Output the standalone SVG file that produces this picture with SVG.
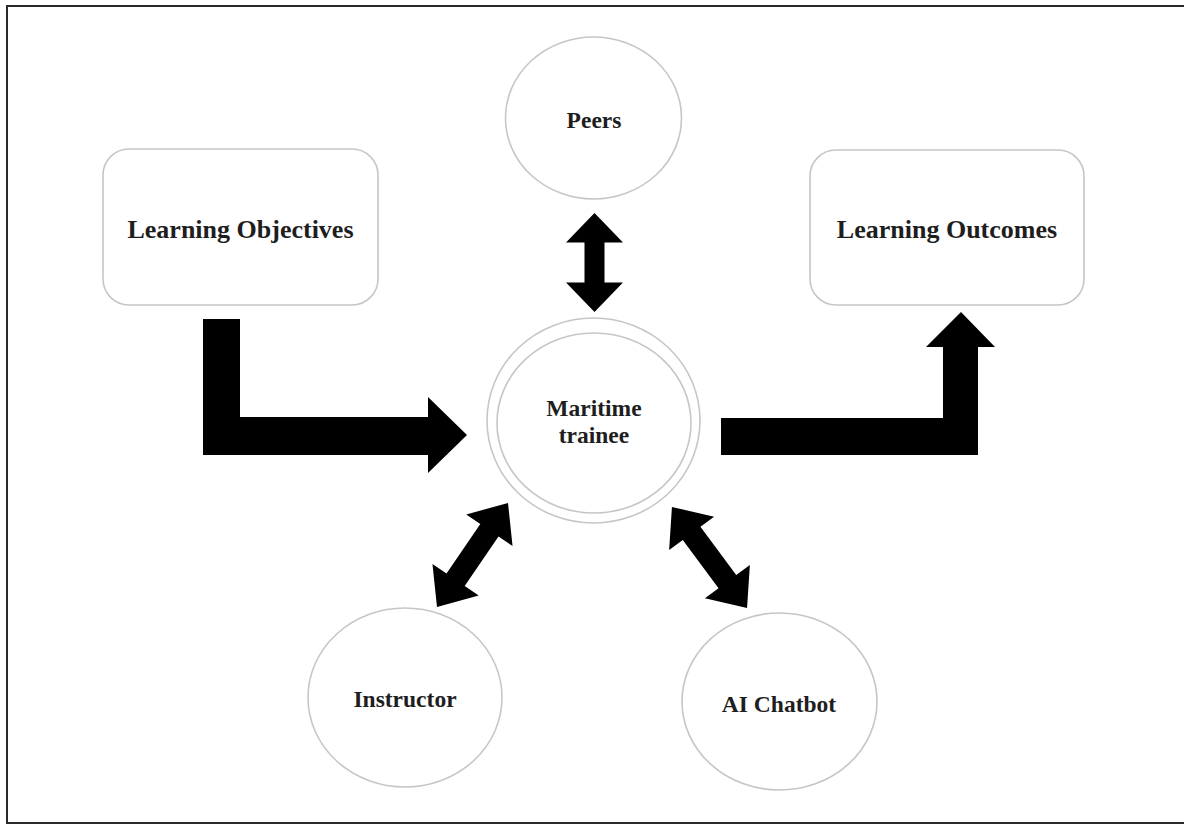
<svg xmlns="http://www.w3.org/2000/svg" width="1184" height="825" viewBox="0 0 1184 825">
  <style>
    .frame { fill: #ffffff; stroke: #2a2a2a; stroke-width: 2; }
    .node { fill: #ffffff; stroke: #c6c6c6; stroke-width: 1.6; }
    .label { font-family: "Liberation Serif", "Times New Roman", serif; font-weight: bold; fill: #1e1e1e; text-anchor: middle; }
    .big { font-size: 26px; }
    .small { font-size: 23.5px; }
    .arrow { fill: #000000; }
  </style>
  <defs>
    <!-- vertical double-headed arrow, centred on the origin -->
    <path id="dbl-short" d="M0,-49.5 L28.5,-20 L10,-20 L10,20 L28.5,20 L0,49.5 L-28.5,20 L-10,20 L-10,-20 L-28.5,-20 Z"/>
    <path id="dbl-long" d="M0,-63 L28,-30 L11,-30 L11,30 L28,30 L0,63 L-28,30 L-11,30 L-11,-30 L-28,-30 Z"/>
  </defs>

  <rect class="frame" x="7" y="6" width="1182" height="817"/>

  <g id="connectors" class="arrow">
    <!-- Learning Objectives -> Maritime trainee -->
    <path id="arrow-objectives" d="M203,319 L240,319 L240,417 L428,417 L428,397 L467,435 L428,473 L428,455 L203,455 Z"/>
    <!-- Maritime trainee -> Learning Outcomes -->
    <path id="arrow-outcomes" d="M721,418 L943,418 L943,347 L926,347 L961,312 L995,347 L978,347 L978,455 L721,455 Z"/>
    <!-- Peers <-> Maritime trainee -->
    <use id="arrow-peers" href="#dbl-short" transform="translate(594.5,262.5)"/>
    <!-- Instructor <-> Maritime trainee -->
    <use id="arrow-instructor" href="#dbl-long" transform="translate(472.5,555) rotate(34.3)"/>
    <!-- AI Chatbot <-> Maritime trainee -->
    <use id="arrow-chatbot" href="#dbl-long" transform="translate(709.5,557.5) rotate(-36.6)"/>
  </g>

  <g id="learning-objectives">
    <rect class="node" x="103" y="149" width="275" height="156" rx="26"/>
    <text class="label big" x="240.5" y="238">Learning Objectives</text>
  </g>

  <g id="learning-outcomes">
    <rect class="node" x="810" y="150" width="274" height="155" rx="26"/>
    <text class="label big" x="947" y="238">Learning Outcomes</text>
  </g>

  <g id="peers">
    <ellipse class="node" cx="593.5" cy="118" rx="88" ry="81"/>
    <text class="label small" x="594" y="128">Peers</text>
  </g>

  <g id="maritime-trainee">
    <ellipse class="node" cx="593.5" cy="420.5" rx="106.5" ry="102.5"/>
    <ellipse class="node" cx="594" cy="423" rx="97" ry="90"/>
    <text class="label small" x="594" y="416">Maritime</text>
    <text class="label small" x="594" y="443">trainee</text>
  </g>

  <g id="instructor">
    <ellipse class="node" cx="405" cy="697.5" rx="97" ry="89.5"/>
    <text class="label small" x="405" y="707">Instructor</text>
  </g>

  <g id="ai-chatbot">
    <ellipse class="node" cx="779.5" cy="701.5" rx="97.5" ry="88.5"/>
    <text class="label small" x="779" y="712">AI Chatbot</text>
  </g>
</svg>
